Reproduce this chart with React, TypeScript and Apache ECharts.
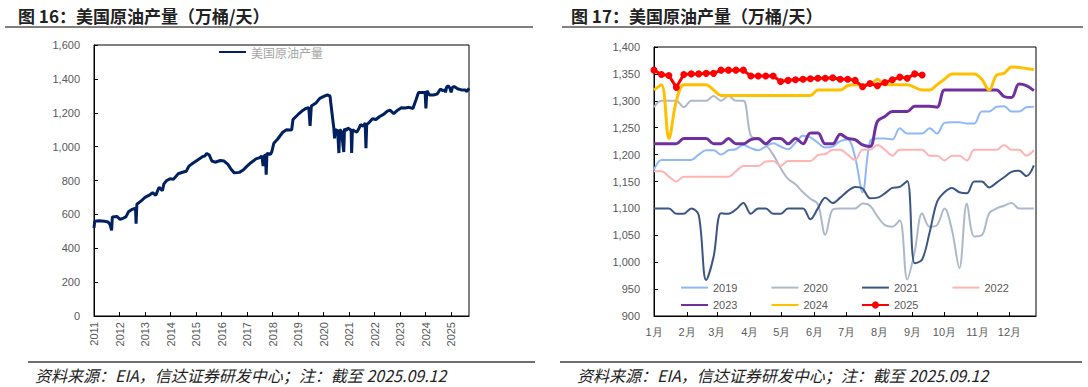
import React, { useEffect, useRef } from 'react';
import * as echarts from 'echarts';

// ---------- Figure 16: weekly US crude production history ----------
const histYears = [
  2011.0, 2011.03, 2011.2, 2011.4, 2011.55, 2011.63, 2011.69, 2011.72, 2011.9, 2012.02,
  2012.15, 2012.25, 2012.35, 2012.5, 2012.6, 2012.63, 2012.65, 2012.68, 2012.85, 2013.0,
  2013.15, 2013.3, 2013.42, 2013.55, 2013.68, 2013.74, 2013.85, 2013.98, 2014.12, 2014.3,
  2014.5, 2014.62, 2014.72, 2014.9, 2015.05, 2015.25, 2015.35, 2015.42, 2015.52, 2015.62,
  2015.75, 2015.95, 2016.1, 2016.25, 2016.38, 2016.5, 2016.7, 2016.85, 2016.98, 2017.15,
  2017.35, 2017.5, 2017.58, 2017.63, 2017.67, 2017.72, 2017.75, 2017.78, 2017.92, 2017.97,
  2018.05, 2018.2, 2018.4, 2018.55, 2018.68, 2018.75, 2018.8, 2019.0, 2019.15, 2019.3,
  2019.42, 2019.47, 2019.52, 2019.7, 2019.85, 2020.05, 2020.15, 2020.25, 2020.32, 2020.4,
  2020.43, 2020.46, 2020.55, 2020.6, 2020.63, 2020.7, 2020.79, 2020.82, 2020.88, 2020.95,
  2021.05, 2021.08, 2021.1, 2021.13, 2021.3, 2021.38, 2021.45, 2021.55, 2021.63, 2021.66,
  2021.69, 2021.8, 2021.92, 2022.05, 2022.2, 2022.35, 2022.5, 2022.6, 2022.75, 2022.9,
  2023.05, 2023.2, 2023.35, 2023.5, 2023.62, 2023.72, 2023.85, 2023.98, 2024.01, 2024.05,
  2024.15, 2024.3, 2024.45, 2024.58, 2024.68, 2024.75, 2024.78, 2024.82, 2024.88, 2024.95,
  2025.0, 2025.05, 2025.12, 2025.25, 2025.4, 2025.55, 2025.62, 2025.7,
];
const histValues = [
  520, 560, 562, 560, 555, 540, 505, 585, 588, 570,
  578, 585, 615, 630, 636, 620, 545, 660, 680, 700,
  712, 728, 712, 760, 740, 780, 800, 810, 808, 840,
  850, 855, 885, 905, 920, 940, 945, 960, 950, 915,
  908, 918, 915, 895, 865, 845, 848, 862, 882, 905,
  928, 935, 945, 885, 945, 950, 835, 960, 955, 970,
  1020, 1045, 1085, 1100, 1098, 1100, 1160, 1190, 1210, 1225,
  1230, 1122, 1240, 1258, 1285, 1300, 1305, 1300, 1210, 1110,
  1048, 1100, 1095, 962, 1100, 1090, 968, 1105, 1095, 1110,
  1100, 1098, 962, 1100, 1085, 1105, 1130, 1120, 1140, 990,
  1130, 1145, 1165, 1160, 1178, 1190, 1210, 1215, 1195, 1215,
  1230, 1228, 1232, 1225, 1275, 1320, 1320, 1320, 1225, 1330,
  1305, 1305, 1310, 1340, 1330, 1335, 1320, 1350, 1360, 1345,
  1320, 1350, 1355, 1342, 1335, 1335, 1325, 1345,
];
const histYearTicks = [2011, 2012, 2013, 2014, 2015, 2016, 2017, 2018, 2019, 2020, 2021, 2022, 2023, 2024, 2025];

// ---------- Figure 17: seasonal comparison (weekly, day-of-year) ----------
const weekDays = [
  0, 7, 14, 21, 28, 35, 42, 49, 56, 63, 70, 77, 84, 91, 98, 105, 112, 119, 126, 133,
  140, 147, 154, 161, 168, 175, 182, 189, 196, 203, 210, 217, 224, 231, 238, 245, 252, 259,
  266, 273, 280, 287, 294, 301, 308, 315, 322, 329, 336, 343, 350, 357,
];
const monthStarts = [0, 31, 59, 90, 120, 151, 181, 212, 243, 273, 304, 334];
const monthLabels = ['1月', '2月', '3月', '4月', '5月', '6月', '7月', '8月', '9月', '10月', '11月', '12月'];

const y2019 = [1172, 1190, 1190, 1190, 1190, 1190, 1200, 1208, 1208, 1200, 1208, 1210, 1218, 1212, 1208, 1215, 1221, 1215, 1210, 1222, 1235, 1232, 1222, 1213, 1215, 1225, 1228, 1195, 1130, 1225, 1230, 1230, 1228, 1249, 1239, 1239, 1239, 1249, 1239, 1259, 1260, 1260, 1258, 1258, 1280, 1280, 1289, 1290, 1280, 1280, 1288, 1289];
const y2020 = [1288, 1300, 1300, 1300, 1288, 1300, 1300, 1300, 1309, 1300, 1309, 1300, 1300, 1235, 1228, 1218, 1200, 1175, 1155, 1145, 1130, 1118, 1108, 1051, 1098, 1100, 1100, 1100, 1109, 1105, 1085, 1069, 1066, 1078, 968, 1020, 1091, 1066, 1069, 1100, 1060, 989, 1109, 1048, 1050, 1091, 1100, 1105, 1110, 1100, 1100, 1100];
const y2021 = [1100, 1100, 1100, 1090, 1090, 1100, 1088, 967, 1010, 1091, 1090, 1098, 1110, 1090, 1100, 1100, 1090, 1090, 1100, 1100, 1100, 1080, 1100, 1120, 1110, 1120, 1132, 1140, 1137, 1119, 1120, 1128, 1138, 1140, 1151, 998, 1005, 1055, 1112, 1130, 1138, 1130, 1128, 1150, 1150, 1139, 1148, 1158, 1168, 1170, 1160, 1180];
const y2022 = [1169, 1169, 1159, 1150, 1159, 1159, 1159, 1159, 1159, 1159, 1159, 1169, 1179, 1179, 1179, 1187, 1188, 1179, 1188, 1188, 1188, 1188, 1199, 1201, 1209, 1209, 1200, 1190, 1209, 1209, 1218, 1209, 1198, 1209, 1209, 1209, 1209, 1198, 1198, 1189, 1198, 1198, 1189, 1209, 1209, 1209, 1209, 1218, 1209, 1209, 1198, 1208];
const y2023 = [1220, 1220, 1220, 1220, 1230, 1230, 1230, 1230, 1220, 1220, 1230, 1220, 1220, 1228, 1230, 1220, 1230, 1230, 1220, 1230, 1220, 1240, 1240, 1220, 1220, 1238, 1230, 1228, 1218, 1215, 1262, 1271, 1280, 1280, 1280, 1290, 1290, 1290, 1288, 1320, 1320, 1320, 1320, 1320, 1320, 1320, 1320, 1308, 1306, 1331, 1328, 1319];
const y2024 = [1320, 1330, 1230, 1300, 1330, 1330, 1330, 1330, 1320, 1310, 1310, 1310, 1310, 1310, 1310, 1310, 1310, 1310, 1310, 1310, 1310, 1310, 1320, 1320, 1320, 1320, 1328, 1330, 1330, 1330, 1340, 1330, 1330, 1330, 1330, 1325, 1320, 1320, 1330, 1340, 1350, 1350, 1350, 1350, 1340, 1320, 1348, 1351, 1363, 1362, 1360, 1358];
const y2025 = [1357, 1349, 1347, 1325, 1349, 1350, 1350, 1351, 1351, 1357, 1357, 1357, 1357, 1346, 1346, 1346, 1346, 1336, 1338, 1339, 1340, 1341, 1342, 1342, 1343, 1340, 1340, 1338, 1326, 1332, 1328, 1334, 1339, 1344, 1342, 1350, 1348];

const FONT = '"Liberation Sans", Arial, sans-serif';
const CJK = '"Noto Sans CJK SC", "Liberation Sans", sans-serif';

const pair = (vals: number[]) => vals.map((v, i) => [weekDays[i], v]);
const lineOnly = (name: string) => ({ name, itemStyle: { opacity: 0 } });

export default function App() {
  const ref = useRef<HTMLDivElement>(null);
  useEffect(() => {
    if (!ref.current) return;
    const chart = echarts.init(ref.current, undefined, { renderer: 'svg' });
    const axisLabelBase = { color: '#595959', fontSize: 11, fontFamily: FONT };
    const seasonal = [
      { name: '2019', data: y2019, color: '#8FB8F7', width: 2 },
      { name: '2020', data: y2020, color: '#ADB9CA', width: 2 },
      { name: '2021', data: y2021, color: '#3B5683', width: 2 },
      { name: '2022', data: y2022, color: '#FFB3B3', width: 2 },
      { name: '2023', data: y2023, color: '#7030A0', width: 3 },
      { name: '2024', data: y2024, color: '#FFC000', width: 3 },
    ];
    const option: any = {
      animation: false,
      backgroundColor: '#fff',
      grid: [
        { left: 94, top: 45, width: 375, height: 271, show: true, borderColor: '#000', borderWidth: 1 },
        { left: 654, top: 47, width: 382, height: 269, show: true, borderColor: '#000', borderWidth: 1 },
      ],
      legend: [
        {
          left: 213, top: 41, itemWidth: 27, itemHeight: 14, itemGap: 10,
          data: [lineOnly('美国原油产量')],
          textStyle: { color: '#A6A6A6', fontSize: 12, fontFamily: CJK },
        },
        {
          left: 675, top: 277, itemWidth: 27, itemHeight: 14, itemGap: 33,
          data: ['2019', '2020', '2021', '2022'].map(lineOnly),
          textStyle: { color: '#595959', fontSize: 11, fontFamily: FONT },
        },
        {
          left: 675, top: 294.5, itemWidth: 27, itemHeight: 9, itemGap: 33,
          data: [lineOnly('2023'), lineOnly('2024'), { name: '2025' }],
          textStyle: { color: '#595959', fontSize: 11, fontFamily: FONT },
        },
      ],
      xAxis: [
        {
          type: 'value', gridIndex: 0, min: 2011, max: 2025.7,
          splitLine: { show: false },
          axisLine: { show: true, lineStyle: { color: '#000', width: 1 } },
          axisTick: { show: true, inside: true, length: 4, lineStyle: { color: '#000' }, customValues: histYearTicks },
          axisLabel: { ...axisLabelBase, rotate: 90, margin: 6, customValues: histYearTicks, formatter: (v: number) => String(Math.round(v)) },
        },
        {
          type: 'value', gridIndex: 1, min: 0, max: 359,
          splitLine: { show: false },
          axisLine: { show: true, lineStyle: { color: '#000', width: 1 } },
          axisTick: { show: true, inside: true, length: 4, lineStyle: { color: '#000' }, customValues: monthStarts.slice(1) },
          axisLabel: {
            ...axisLabelBase, margin: 10, customValues: monthStarts,
            formatter: (v: number) => monthLabels[monthStarts.indexOf(Math.round(v))] ?? '',
          },
        },
      ],
      yAxis: [
        {
          type: 'value', gridIndex: 0, min: 0, max: 1600, interval: 200,
          splitLine: { show: false },
          axisLine: { show: true, lineStyle: { color: '#000', width: 1 } },
          axisTick: { show: true, inside: true, length: 4, lineStyle: { color: '#000' } },
          axisLabel: { ...axisLabelBase, margin: 14, formatter: (v: number) => v.toLocaleString('en-US') },
        },
        {
          type: 'value', gridIndex: 1, min: 900, max: 1400, interval: 50,
          splitLine: { show: false },
          axisLine: { show: true, lineStyle: { color: '#000', width: 1 } },
          axisTick: { show: true, inside: true, length: 4, lineStyle: { color: '#000' } },
          axisLabel: { ...axisLabelBase, margin: 14, formatter: (v: number) => v.toLocaleString('en-US') },
        },
      ],
      series: [
        {
          name: '美国原油产量', type: 'line', xAxisIndex: 0, yAxisIndex: 0,
          data: histYears.map((x, i) => [x, histValues[i]]),
          showSymbol: false, symbol: 'none',
          lineStyle: { color: '#002060', width: 3 }, itemStyle: { color: '#002060' },
        },
        ...seasonal.map((s) => ({
          name: s.name, type: 'line', xAxisIndex: 1, yAxisIndex: 1,
          data: pair(s.data), smooth: 0.35, showSymbol: false, symbol: 'none',
          lineStyle: { color: s.color, width: s.width }, itemStyle: { color: s.color },
        })),
        {
          name: '2025', type: 'line', xAxisIndex: 1, yAxisIndex: 1,
          data: pair(y2025), symbol: 'circle', symbolSize: 7, showSymbol: true,
          lineStyle: { color: '#FF0000', width: 3 }, itemStyle: { color: '#FF0000' },
        },
      ],
      graphic: [
        {
          type: 'text', x: 18, y: 15,
          style: { text: '图 16：美国原油产量（万桶/天）', fontSize: 17, fontWeight: 'bold', fontFamily: CJK, fill: '#222', verticalAlign: 'middle' },
        },
        {
          type: 'text', x: 571, y: 15,
          style: { text: '图 17：美国原油产量（万桶/天）', fontSize: 17, fontWeight: 'bold', fontFamily: CJK, fill: '#222', verticalAlign: 'middle' },
        },
        { type: 'line', shape: { x1: 5, y1: 27, x2: 533, y2: 27 }, style: { stroke: '#808080', lineWidth: 2 } },
        { type: 'line', shape: { x1: 562, y1: 27, x2: 1083, y2: 27 }, style: { stroke: '#808080', lineWidth: 2 } },
        { type: 'line', shape: { x1: 28, y1: 362, x2: 535, y2: 362 }, style: { stroke: '#404040', lineWidth: 1.5 } },
        { type: 'line', shape: { x1: 560, y1: 362, x2: 1082, y2: 362 }, style: { stroke: '#404040', lineWidth: 1.5 } },
        {
          type: 'text', x: 35, y: 375,
          style: { text: '资料来源：EIA，信达证券研发中心；注：截至 2025.09.12', fontSize: 16, fontStyle: 'italic', fontFamily: CJK, fill: '#222', verticalAlign: 'middle' },
        },
        {
          type: 'text', x: 577, y: 375,
          style: { text: '资料来源：EIA，信达证券研发中心；注：截至 2025.09.12', fontSize: 16, fontStyle: 'italic', fontFamily: CJK, fill: '#222', verticalAlign: 'middle' },
        },
      ],
    };
    chart.setOption(option);
    return () => chart.dispose();
  }, []);
  return <div ref={ref} style={{ position: 'fixed', left: 0, top: 0, width: 1088, height: 387, background: '#fff' }} />;
}
